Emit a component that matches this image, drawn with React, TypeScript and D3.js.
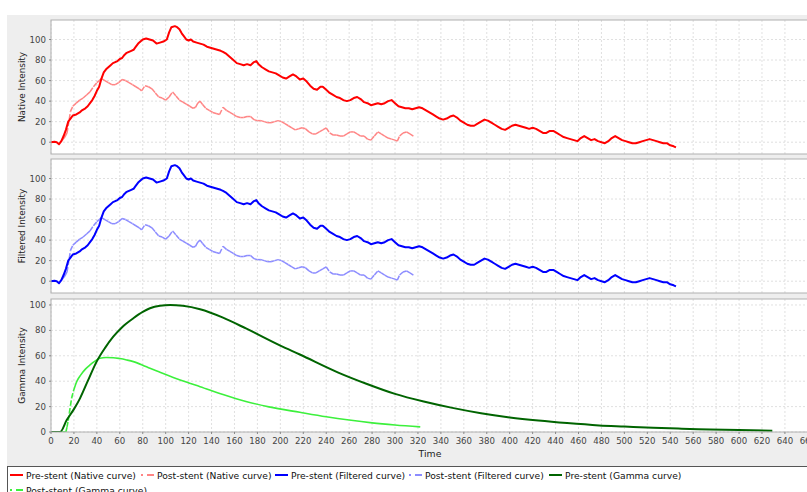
import React from "react";
import * as d3 from "d3";

type Pt = [number, number];

// Time axis ticks and intensity ticks
const timeTicks: number[] = d3.range(0, 661, 20);
const intensityTicks: number[] = [0, 20, 40, 60, 80, 100];

// Pre-stent native curve: [time, intensity]
const preNative: Pt[] = [
  [0, 0], [3, 0.5], [5, 0], [7, -2], [9, 1], [11, 6], [13, 12], [15, 20], [17, 23], [19, 26],
  [22, 27], [25, 29], [27, 31], [30, 33], [32, 35], [34, 38], [36, 41], [38, 45], [40, 50], [42, 54],
  [44, 62], [46, 68], [48, 71], [50, 73], [52, 75], [54, 77], [56, 78], [58, 79], [60, 81], [62, 82],
  [64, 85], [66, 87], [68, 88], [70, 89], [72, 90], [74, 93], [76, 96], [78, 98], [80, 100], [83, 101],
  [86, 100], [89, 99], [92, 96], [95, 97], [98, 98], [101, 100], [103, 107], [105, 112], [108, 113], [110, 112],
  [112, 110], [114, 106], [116, 103], [118, 100], [120, 99], [122, 100], [124, 98], [127, 97], [130, 96], [133, 95],
  [136, 93], [139, 92], [142, 91], [145, 90], [148, 89], [150, 88], [153, 86], [156, 83], [159, 80], [162, 77],
  [165, 76], [168, 75], [171, 76], [174, 75], [177, 78], [179, 79], [181, 76], [184, 73], [187, 71], [190, 69],
  [193, 68], [196, 67], [199, 65], [202, 63], [205, 62], [208, 64], [211, 66], [214, 64], [217, 61], [220, 62],
  [223, 59], [226, 55], [229, 52], [232, 51], [235, 54], [237, 54], [240, 51], [243, 48], [246, 46], [249, 44],
  [252, 43], [255, 41], [258, 40], [261, 41], [264, 43], [267, 44], [270, 42], [273, 39], [276, 38], [279, 36],
  [282, 37], [285, 38], [288, 37], [291, 38], [294, 40], [297, 41], [300, 38], [303, 35], [306, 34], [309, 33],
  [312, 33], [315, 32], [318, 33], [321, 34], [324, 33], [327, 31], [330, 29], [333, 27], [336, 25], [339, 23],
  [342, 22], [345, 23], [348, 25], [351, 26], [354, 24], [357, 21], [360, 19], [363, 17], [366, 16], [369, 16],
  [372, 18], [375, 20], [378, 22], [381, 21], [384, 19], [387, 17], [390, 15], [393, 13], [396, 12], [399, 14],
  [402, 16], [405, 17], [408, 16], [411, 15], [414, 14], [417, 13], [420, 14], [423, 13], [426, 11], [429, 9],
  [432, 9], [435, 11], [438, 11], [441, 9], [444, 7], [447, 5], [450, 4], [453, 3], [456, 2], [459, 1],
  [462, 4], [465, 6], [468, 4], [471, 2], [474, 3], [477, 1], [480, 0], [483, -1], [486, 1], [489, 4],
  [492, 6], [495, 4], [498, 2], [501, 1], [504, 0], [507, -1], [510, -1], [513, 0], [516, 1], [519, 2],
  [522, 3], [525, 2], [528, 1], [531, 0], [534, -1], [537, -1], [540, -3], [543, -4], [545, -5],
];

// Post-stent native curve: [time, intensity]
const postNative: Pt[] = [
  [8, 0], [10, 2], [12, 5], [14, 9], [17, 30], [19, 35], [22, 38], [25, 41], [28, 43], [31, 46],
  [34, 49], [37, 54], [40, 58], [42, 60], [44, 62], [47, 60], [50, 58], [53, 56], [56, 56], [59, 58],
  [62, 61], [65, 60], [68, 58], [71, 56], [74, 54], [77, 52], [79, 50], [82, 55], [85, 54], [88, 52],
  [91, 48], [94, 44], [97, 43], [100, 41], [103, 44], [106, 49], [109, 45], [112, 41], [115, 39], [118, 37],
  [121, 35], [124, 33], [126, 34], [128, 38], [130, 40], [132, 37], [135, 33], [138, 31], [141, 29], [144, 28],
  [147, 27], [150, 34], [153, 31], [156, 29], [159, 27], [162, 25], [165, 24], [168, 24], [171, 25], [174, 25],
  [177, 22], [180, 21], [183, 21], [186, 20], [189, 19], [192, 19], [195, 20], [198, 21], [201, 20], [204, 18],
  [207, 16], [210, 14], [213, 12], [216, 13], [219, 14], [222, 13], [225, 10], [228, 8], [231, 8], [234, 10],
  [237, 12], [240, 14], [243, 9], [246, 7], [249, 7], [252, 6], [255, 6], [258, 8], [261, 10], [264, 10],
  [267, 8], [270, 6], [273, 6], [276, 3], [279, 2], [282, 6], [285, 10], [288, 8], [291, 6], [294, 4],
  [297, 3], [300, 2], [302, 1], [304, 6], [307, 9], [310, 10], [313, 8], [316, 6],
];

// Filtered curves follow the native ones
const preFiltered: Pt[] = preNative;
const postFiltered: Pt[] = postNative;

// Gamma-variate fits: [time, intensity]
const preGamma: Pt[] = [
  [0, 0], [8, 0], [13.7, 9.4], [20, 18], [25.3, 26.5], [32, 40], [39.8, 55.4], [47, 66], [54.3, 75],
  [62, 82.5], [71.8, 89.5], [80, 94.5], [86.3, 97.4], [95, 99.4], [104, 100], [115, 99.3], [130, 96.6],
  [150, 90], [170, 81.5], [200, 68], [217, 61], [250, 47], [275, 38], [300, 30], [325, 24], [350, 19],
  [375, 14.8], [400, 11.5], [425, 9], [450, 7], [478, 5.2], [500, 4.3], [525, 3.3], [550, 2.6],
  [575, 2], [600, 1.5], [629, 1],
];

const postGamma: Pt[] = [
  [0, 0], [13, 0], [14, 4], [15, 9], [16, 15], [17, 21], [18, 26.8], [19.5, 32], [22.4, 39.6], [26, 45],
  [30, 49.5], [34, 52.8], [38, 55.6], [42.7, 58], [48, 58.6], [54.3, 58.5], [60, 57.8], [66, 56.7],
  [71.8, 55.4], [80, 52.6], [86.3, 50.1], [95, 47], [106.6, 43], [118, 39.3], [130, 35.7], [150, 29.5],
  [170, 24], [190, 19.8], [217, 15.5], [240, 12], [260, 9.4], [280, 7.2], [300, 5.5], [322, 4],
];

const legendLabels: string[] = [
  "Pre-stent (Native curve)",
  "Post-stent (Native curve)",
  "Pre-stent (Filtered curve)",
  "Post-stent (Filtered curve)",
  "Pre-stent (Gamma curve)",
  "Post-stent (Gamma curve)",
];

const W = 807;
const H = 492;
const FONT = "'DejaVu Sans', Verdana, sans-serif";

const x = d3.scaleLinear().domain([0, 661]).range([51, 809]);

interface Panel {
  label: string;
  top: number;
  bottom: number;
  domain: [number, number];
  pre: Pt[];
  post: Pt[];
  preColor: string;
  postColor: string;
  smooth: boolean;
}

const panels: Panel[] = [
  { label: "Native Intensity", top: 20, bottom: 154, domain: [-11.5, 119], pre: preNative, post: postNative, preColor: "#ff0000", postColor: "#ff8585", smooth: false },
  { label: "Filtered Intensity", top: 159, bottom: 293, domain: [-11.5, 119], pre: preFiltered, post: postFiltered, preColor: "#0000ff", postColor: "#8c8cff", smooth: false },
  { label: "Gamma Intensity", top: 299, bottom: 432, domain: [0, 104.7], pre: preGamma, post: postGamma, preColor: "#006400", postColor: "#3cf03c", smooth: true },
];

const legendColors = ["#ff0000", "#ff8585", "#0000ff", "#8c8cff", "#006400", "#3cf03c"];
const legendX = [10, 141, 275, 409, 549, 10];
const legendRow = [0, 0, 0, 0, 0, 1];

// Post-stent series are stroked segment by segment so the dash pattern restarts on every segment
function DashedSegments({ pts, y, color, width }: { pts: Pt[]; y: d3.ScaleLinear<number, number>; color: string; width: number }) {
  const segs = [];
  for (let i = 1; i < pts.length; i++) {
    const [t0, v0] = pts[i - 1];
    const [t1, v1] = pts[i];
    segs.push(
      <line key={i} x1={x(t0)} y1={y(v0)} x2={x(t1)} y2={y(v1)} stroke={color} strokeWidth={width} strokeDasharray="5,2" />
    );
  }
  return <g>{segs}</g>;
}

function PanelView({ p, idx }: { p: Panel; idx: number }) {
  const y = d3.scaleLinear().domain(p.domain).range([p.bottom, p.top]);
  const clipId = `clip-${idx}`;
  const lineGen = d3
    .line<Pt>()
    .x((d) => x(d[0]))
    .y((d) => y(d[1]))
    .curve(p.smooth ? d3.curveMonotoneX : d3.curveLinear);

  // Gamma post-stent: steep onset drawn dashed, the rest as a smooth stroke
  let postEl: React.ReactNode;
  if (p.smooth) {
    const split = p.post.findIndex((d) => d[0] >= 19.5);
    postEl = (
      <g>
        <path d={lineGen(p.post.slice(0, 2)) || ""} fill="none" stroke={p.postColor} strokeWidth={1.6} />
        <DashedSegments pts={p.post.slice(1, split + 1)} y={y} color={p.postColor} width={1.6} />
        <path d={lineGen(p.post.slice(split)) || ""} fill="none" stroke={p.postColor} strokeWidth={1.6} />
      </g>
    );
  } else {
    postEl = <DashedSegments pts={p.post} y={y} color={p.postColor} width={1.5} />;
  }

  return (
    <g>
      <defs>
        <clipPath id={clipId}>
          <rect x={x(0)} y={p.top} width={x.range()[1] - x(0)} height={p.bottom - p.top} />
        </clipPath>
      </defs>
      <rect x={x(0)} y={p.top} width={x.range()[1] - x(0)} height={p.bottom - p.top} fill="#ffffff" />
      {timeTicks.map((t) => (
        <line key={`vx${t}`} x1={x(t)} x2={x(t)} y1={p.top} y2={p.bottom} stroke="#d8d8d8" strokeWidth={0.8} strokeDasharray="2,2" />
      ))}
      {intensityTicks.map((v) => (
        <line key={`hy${v}`} x1={x(0)} x2={x.range()[1]} y1={y(v)} y2={y(v)} stroke="#d8d8d8" strokeWidth={0.8} strokeDasharray="2,2" />
      ))}
      <g clipPath={`url(#${clipId})`}>
        {postEl}
        <path d={lineGen(p.pre) || ""} fill="none" stroke={p.preColor} strokeWidth={2} strokeLinejoin="round" />
      </g>
      <rect x={x(0)} y={p.top} width={x.range()[1] - x(0)} height={p.bottom - p.top} fill="none" stroke="#b0b0b0" strokeWidth={1} />
      {intensityTicks.map((v) => (
        <g key={`yt${v}`}>
          <line x1={x(0) - 2} x2={x(0)} y1={y(v)} y2={y(v)} stroke="#888" />
          <text x={x(0) - 5} y={y(v)} dy="0.35em" textAnchor="end" fontSize={8.6} fill="#444" fontFamily={FONT}>
            {v}
          </text>
        </g>
      ))}
      <text
        transform={`translate(25,${(p.top + p.bottom) / 2}) rotate(-90)`}
        textAnchor="middle"
        fontSize={8.9}
        fill="#222"
        fontFamily={FONT}
      >
        {p.label}
      </text>
    </g>
  );
}

export default function App() {
  const bottom = panels[2].bottom;
  return (
    <svg width={W} height={H} style={{ position: "absolute", left: 0, top: 0, display: "block" }}>
      <rect x={0} y={0} width={W} height={H} fill="#ffffff" />
      <rect x={7} y={15} width={W - 7} height={451} fill="#eeeeee" />
      {panels.map((p, i) => (
        <PanelView key={p.label} p={p} idx={i} />
      ))}
      {timeTicks.map((t) => (
        <g key={`xt${t}`}>
          <line x1={x(t)} x2={x(t)} y1={bottom} y2={bottom + 2} stroke="#888" />
          <text x={x(t)} y={bottom + 12} textAnchor="middle" fontSize={8.6} fill="#444" fontFamily={FONT}>
            {t}
          </text>
        </g>
      ))}
      <text x={430} y={457} textAnchor="middle" fontSize={9.3} fill="#222" fontFamily={FONT}>
        Time
      </text>
      {/* legend */}
      <rect x={7.5} y={466.5} width={W} height={40} fill="#ffffff" stroke="#555" strokeWidth={1} />
      {legendLabels.map((lab, i) => {
        const lx = legendX[i];
        const ly = 475 + legendRow[i] * 15;
        const post = i % 2 === 1;
        return (
          <g key={lab}>
            <line
              x1={lx}
              x2={lx + 13}
              y1={ly}
              y2={ly}
              stroke={legendColors[i]}
              strokeWidth={2}
              strokeDasharray={post ? "2,4,7" : undefined}
            />
            <text x={lx + 16} y={ly + 3.5} fontSize={9.2} fill="#111" fontFamily={FONT}>
              {lab}
            </text>
          </g>
        );
      })}
    </svg>
  );
}
